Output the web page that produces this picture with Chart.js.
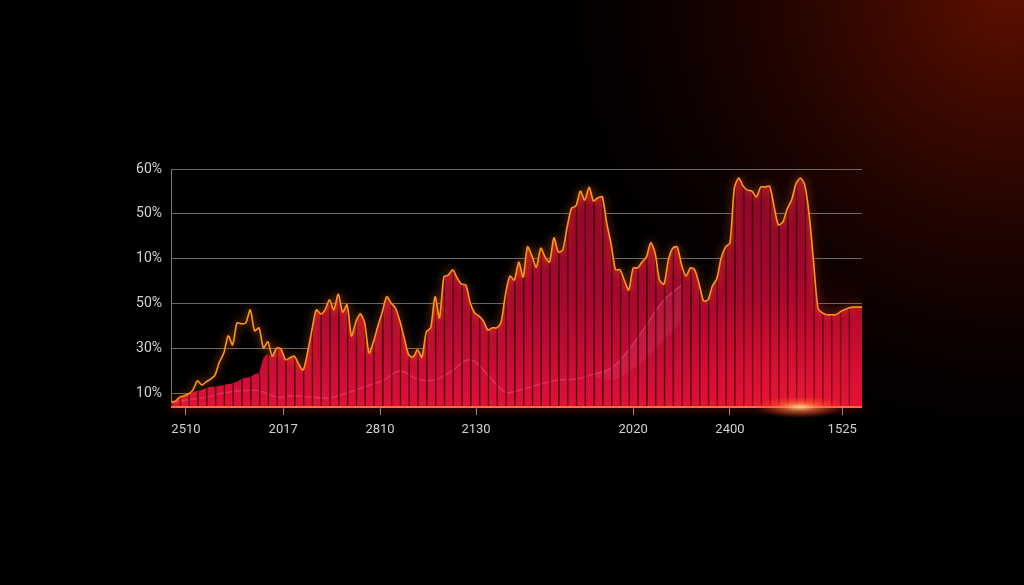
<!DOCTYPE html>
<html>
<head>
<meta charset="utf-8">
<script src="https://cdn.jsdelivr.net/npm/chart.js@4.4.1/dist/chart.umd.min.js"></script>
<style>
  html, body { margin: 0; padding: 0; background: #000; }
  #wrap { width: 1024px; height: 585px; }
</style>
</head>
<body>
<div id="wrap"><canvas id="redChart" width="1024" height="585"></canvas></div>
<script>
// axis labels as they appear in the picture
var xTickLabels = ['2510', '2017', '2810', '2130', '2020', '2400', '1525'];
var xTickAt = [3.4, 25.5, 47.5, 69.3, 105, 127, 152.5];
var yTickLabels = ['10%', '30%', '50%', '10%', '50%', '60%'];
var yTickAt = [10, 20, 30, 40, 50, 60];

// orange line, one value per sample step
var lineVals = [
  8.2, 8.4, 9.3, 9.6, 10.0, 10.9, 12.9, 12.0, 12.7, 13.3,
  14.2, 17.1, 19.1, 22.9, 20.9, 25.8, 25.6, 25.8, 28.7, 24.0,
  24.7, 20.2, 21.6, 18.4, 20.2, 20.0, 17.6, 18.0, 18.4, 16.7,
  15.3, 19.1, 24.2, 28.7, 27.8, 28.7, 30.9, 28.7, 32.2, 28.2,
  29.8, 22.9, 26.0, 27.8, 25.8, 19.1, 21.6, 25.1, 28.2, 31.6,
  30.2, 29.1, 26.2, 22.4, 18.7, 18.2, 19.8, 18.2, 23.8, 24.7,
  31.6, 26.9, 36.0, 36.4, 37.6, 35.8, 34.4, 34.2, 30.2, 28.0,
  27.3, 26.2, 24.2, 24.7, 24.7, 26.0, 32.2, 36.2, 35.3, 39.3,
  36.0, 42.7, 40.7, 38.2, 42.4, 40.4, 39.3, 44.7, 41.6, 42.0,
  47.1, 51.3, 51.8, 55.1, 53.1, 56.0, 52.9, 53.6, 53.8, 48.0,
  43.3, 37.6, 37.6, 35.3, 33.1, 38.0, 38.0, 39.3, 40.4, 43.6,
  41.3, 35.3, 34.4, 39.8, 42.4, 42.7, 38.7, 36.2, 38.0, 37.6,
  34.4, 30.7, 30.9, 34.0, 35.6, 40.2, 42.7, 43.6, 55.8, 58.0,
  56.2, 55.3, 55.1, 53.8, 56.0, 56.0, 56.2, 51.8, 47.6, 48.2,
  51.1, 53.1, 56.7, 58.0, 56.4, 49.8, 39.3, 29.1, 28.0, 27.6,
  27.6, 27.6, 28.2, 28.7, 29.1, 29.3, 29.3, 29.3
];

// red area top where it sits below the orange line (samples 5..22)
var fillLeftStart = 5;
var fillLeft = [10.4, 10.7, 10.9, 11.3, 11.6, 11.6, 11.8, 12.0, 12.2, 12.4,
                12.7, 13.3, 13.6, 13.8, 14.4, 14.7, 18.0, 18.9];

// faint pink line inside the area, every 4th sample
var faintVals = [8.0, 8.7, 9.3, 10.2, 10.7, 10.7, 9.3, 9.6, 9.3, 9.1,
                 10.2, 11.6, 12.9, 15.1, 13.3, 13.1, 15.3, 17.6, 14.2, 10.4,
                 11.1, 12.2, 13.1, 13.3, 14.4, 15.8, 19.8, 25.3, 30.9, 34.2];
// lower edge of the light band (every 4th sample from 24)
var bandStart = 24;
var bandLow = [13.9, 13.1, 14.9, 18.0, 22.0, 26.4, 34.2];

var fillVals = lineVals.slice();
fillLeft.forEach(function (v, i) { fillVals[fillLeftStart + i] = v; });

var linePts = lineVals.map(function (v, i) { return { x: i, y: v }; });
var fillPts = fillVals.map(function (v, i) { return { x: i, y: v }; });
var sepPts = [];
for (var k = 1; k < fillVals.length - 1; k += 2) {
    sepPts.push({ x: k, y: fillVals[k - 1] });
}
var faintPts = faintVals.map(function (v, j) { return { x: j * 4, y: v }; });
var bandPts = bandLow.map(function (v, j) { return { x: (bandStart + j) * 4, y: v }; });

var bgPlugin = {
    id: 'bg',
    beforeDraw: function (chart) {
        var c = chart.ctx;
        c.save();
        c.fillStyle = '#000';
        c.fillRect(0, 0, chart.width, chart.height);
        var g = c.createRadialGradient(1010, -10, 0, 1010, -10, 500);
        g.addColorStop(0, 'rgba(95,16,0,1)');
        g.addColorStop(0.35, 'rgba(65,9,0,0.75)');
        g.addColorStop(0.7, 'rgba(30,3,0,0.4)');
        g.addColorStop(1, 'rgba(0,0,0,0)');
        c.fillStyle = g;
        c.fillRect(0, 0, chart.width, chart.height);
        c.restore();
    },
    beforeDatasetDraw: function (chart, args) {
        var ds = chart.data.datasets[args.index];
        if (ds.glow) {
            chart.ctx.save();
            chart.ctx.shadowColor = ds.glow;
            chart.ctx.shadowBlur = 8;
        }
    },
    afterDatasetDraw: function (chart, args) {
        if (chart.data.datasets[args.index].glow) chart.ctx.restore();
    },
    afterDatasetsDraw: function (chart) {
        var c = chart.ctx, ca = chart.chartArea;
        c.save();
        // red wash near the bottom right, kept inside the plot
        c.save();
        c.beginPath();
        c.rect(ca.left, ca.top, ca.right - ca.left, ca.bottom - ca.top);
        c.clip();
        var sx = 800, sy = ca.bottom;
        var g = c.createRadialGradient(sx, sy, 0, sx, sy, 140);
        g.addColorStop(0, 'rgba(255,40,50,0.35)');
        g.addColorStop(1, 'rgba(255,0,30,0)');
        c.fillStyle = g;
        c.fillRect(sx - 140, sy - 140, 280, 140);
        c.restore();
        // baseline
        c.shadowColor = 'rgba(255,40,30,0.9)';
        c.shadowBlur = 10;
        c.strokeStyle = '#ff6a4a';
        c.lineWidth = 2;
        c.beginPath();
        c.moveTo(ca.left, ca.bottom);
        c.lineTo(ca.right, ca.bottom);
        c.stroke();
        c.shadowBlur = 0;
        // hot spot on the baseline
        c.translate(sx, sy);
        c.scale(1, 0.25);
        var h = c.createRadialGradient(0, 0, 0, 0, 0, 45);
        h.addColorStop(0, 'rgba(255,220,150,0.95)');
        h.addColorStop(0.4, 'rgba(255,120,60,0.6)');
        h.addColorStop(1, 'rgba(255,40,30,0)');
        c.fillStyle = h;
        c.beginPath();
        c.arc(0, 0, 45, 0, Math.PI * 2);
        c.fill();
        c.restore();
    }
};

function areaGradient(context) {
    var chart = context.chart;
    var ca = chart.chartArea;
    if (!ca) return '#a0082c';
    var g = chart.ctx.createLinearGradient(0, ca.top, 0, ca.bottom);
    g.addColorStop(0, '#8a0727');
    g.addColorStop(0.55, '#a8082d');
    g.addColorStop(1, '#e0103a');
    return g;
}

var ctx = document.getElementById('redChart').getContext('2d');
var redChart = new Chart(ctx, {
    type: 'line',
    data: {
        datasets: [{
            label: 'area',
            data: fillPts,
            borderWidth: 0,
            pointRadius: 0,
            fill: 'start',
            backgroundColor: areaGradient,
            tension: 0.2,
            order: 5
        }, {
            type: 'bar',
            label: 'cols',
            data: sepPts,
            backgroundColor: 'rgba(0,0,0,0)',
            borderColor: 'rgba(45,0,12,0.8)',
            borderWidth: { left: 1, right: 0, top: 0, bottom: 0 },
            barPercentage: 1,
            categoryPercentage: 1,
            order: 2
        }, {
            label: 'faint',
            data: faintPts,
            borderColor: 'rgba(255,110,150,0.35)',
            borderWidth: 1.5,
            pointRadius: 0,
            fill: false,
            tension: 0.4,
            order: 3
        }, {
            label: 'band',
            data: bandPts,
            borderWidth: 0,
            pointRadius: 0,
            fill: 2,
            backgroundColor: 'rgba(255,120,160,0.13)',
            tension: 0.4,
            order: 4
        }, {
            label: 'rate',
            data: linePts,
            borderColor: '#ff9618',
            borderWidth: 1.6,
            pointRadius: 0,
            fill: false,
            tension: 0.25,
            glow: 'rgba(255,120,0,0.9)',
            order: 1
        }]
    },
    options: {
        responsive: false,
        animation: false,
        layout: { padding: { top: 169, right: 162, left: 0, bottom: 0 } },
        plugins: {
            legend: { display: false },
            tooltip: { enabled: false }
        },
        scales: {
            x: {
                type: 'linear',
                min: 0,
                max: lineVals.length - 1,
                offset: false,
                afterFit: function (scale) { scale.height = 178; },
                afterBuildTicks: function (scale) {
                    scale.ticks = xTickAt.map(function (v) { return { value: v }; });
                },
                border: { display: false },
                grid: {
                    offset: false,
                    drawOnChartArea: false,
                    drawTicks: true,
                    tickLength: 8,
                    tickColor: 'rgba(190,190,190,0.75)',
                    color: 'rgba(190,190,190,0.75)'
                },
                ticks: {
                    autoSkip: false,
                    maxRotation: 0,
                    padding: 7,
                    color: '#d2d2d2',
                    font: { family: 'Roboto', size: 13 },
                    callback: function (value, index) { return xTickLabels[index]; }
                }
            },
            y: {
                min: 7.1,
                max: 60,
                afterFit: function (scale) { scale.width = 171; },
                afterBuildTicks: function (scale) {
                    scale.ticks = yTickAt.map(function (v) { return { value: v }; });
                },
                border: { display: true, color: 'rgba(170,170,170,0.7)', width: 1 },
                grid: {
                    color: 'rgba(170,170,170,0.6)',
                    lineWidth: 1,
                    drawTicks: false
                },
                ticks: {
                    padding: 9,
                    color: '#d2d2d2',
                    font: { family: 'Roboto', size: 14 },
                    callback: function (value, index) { return yTickLabels[index]; }
                }
            }
        }
    },
    plugins: [bgPlugin]
});
</script>
</body>
</html>
